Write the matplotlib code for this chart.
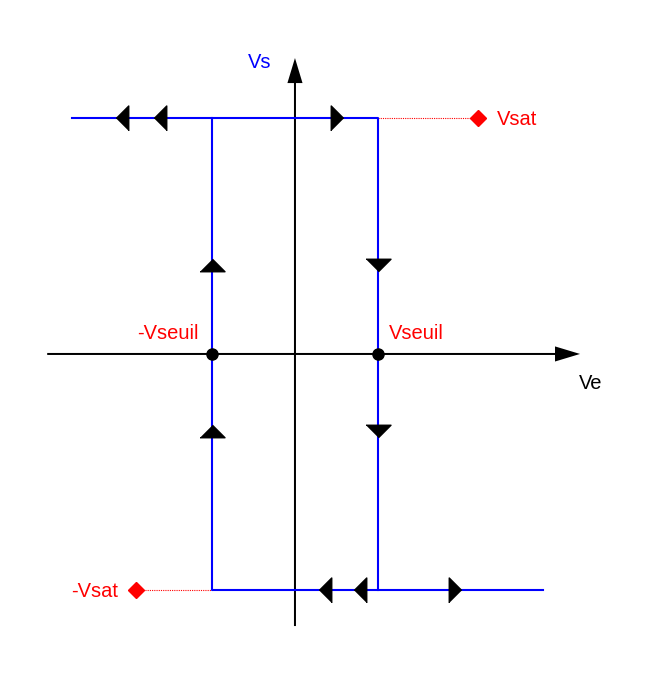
import numpy as np
import matplotlib as mpl

mpl.use('agg')

import matplotlib.pyplot as plt

# values (1 unit ~ 23.6 px)
vsat = 10.0
vseuil = 3.5
x_left = -9.45
x_right = 10.5
sat_marker_x = [7.75, -6.74]

# direction arrows along the loop
left_x_top = [-7.31, -5.72]
right_x_top = [1.76]
left_x_bot = [1.29, 2.75]
right_x_bot = [6.78]
up_y = [3.75, -3.26]
down_y = [3.75, -3.26]

blue = '#0000ff'
red = '#ff0000'

plt.rcParams['font.family'] = ['Liberation Sans', 'DejaVu Sans']

fig = plt.figure(figsize=(6.52, 6.73), dpi=100)
ax = fig.add_axes([0, 0, 1, 1])
ax.set_xlim(-12.5, 15.13)
ax.set_ylim(-13.52, 15.0)
ax.set_aspect('equal')
ax.axis('off')

# axes with arrowheads
ax.arrow(-10.5, 0, 12.08 + 10.5, 0, width=0.085, head_width=0.64, head_length=1.06,
         length_includes_head=True, color='black', lw=0, zorder=2)
ax.arrow(0, -11.53, 0, 12.54 + 11.53, width=0.085, head_width=0.64, head_length=1.06,
         length_includes_head=True, color='black', lw=0, zorder=2)

# hysteresis loop
ax.plot([x_left, vseuil, vseuil], [vsat, vsat, -vsat], color=blue, lw=1.5, zorder=3)
ax.plot([x_right, -vseuil, -vseuil], [-vsat, -vsat, vsat], color=blue, lw=1.5, zorder=3)

# dotted guides to the saturation markers
ax.plot([vseuil, sat_marker_x[0]], [vsat, vsat], color=red, lw=0.8, ls=(0, (1, 1)))
ax.plot([sat_marker_x[1], -vseuil], [-vsat, -vsat], color=red, lw=0.8, ls=(0, (1, 1)))
ax.plot(sat_marker_x, [vsat, -vsat], 'D', color=red, ms=8, zorder=4)

# threshold points
ax.plot([-vseuil, vseuil], [0, 0], 'o', color='black', ms=8, zorder=4)

# triangle markers
tri_left = [(-0.5, 0), (0.5, 1), (0.5, -1)]
tri_right = [(0.5, 0), (-0.5, 1), (-0.5, -1)]
tri_up = [(0, 0.5), (1, -0.5), (-1, -0.5)]
tri_down = [(0, -0.5), (1, 0.5), (-1, 0.5)]
ms = 18
ax.plot(left_x_top, [vsat] * len(left_x_top), ls='none', marker=tri_left, color='black', ms=ms, zorder=5)
ax.plot(right_x_top, [vsat] * len(right_x_top), ls='none', marker=tri_right, color='black', ms=ms, zorder=5)
ax.plot(left_x_bot, [-vsat] * len(left_x_bot), ls='none', marker=tri_left, color='black', ms=ms, zorder=5)
ax.plot(right_x_bot, [-vsat] * len(right_x_bot), ls='none', marker=tri_right, color='black', ms=ms, zorder=5)
ax.plot([-vseuil] * len(up_y), up_y, ls='none', marker=tri_up, color='black', ms=ms, zorder=5)
ax.plot([vseuil] * len(down_y), down_y, ls='none', marker=tri_down, color='black', ms=ms, zorder=5)

# labels
fs = 14.5
ax.text(8.55, vsat, 'Vsat', color=red, fontsize=fs, va='center_baseline', ha='left')
ax.text(-7.5, -vsat, '-Vsat', color=red, fontsize=fs, va='center_baseline', ha='right')
ax.text(-4.1, 0.95, '-Vseuil', color=red, fontsize=fs, va='center_baseline', ha='right')
ax.text(4.0, 0.95, 'Vseuil', color=red, fontsize=fs, va='center_baseline', ha='left')
ax.text(-1.0, 12.45, 'Vs', color=blue, fontsize=fs, va='center_baseline', ha='right')
ax.text(12.05, -1.15, 'Ve', color='black', fontsize=fs, va='center_baseline', ha='left')

fig.savefig('out.png', dpi=100)
